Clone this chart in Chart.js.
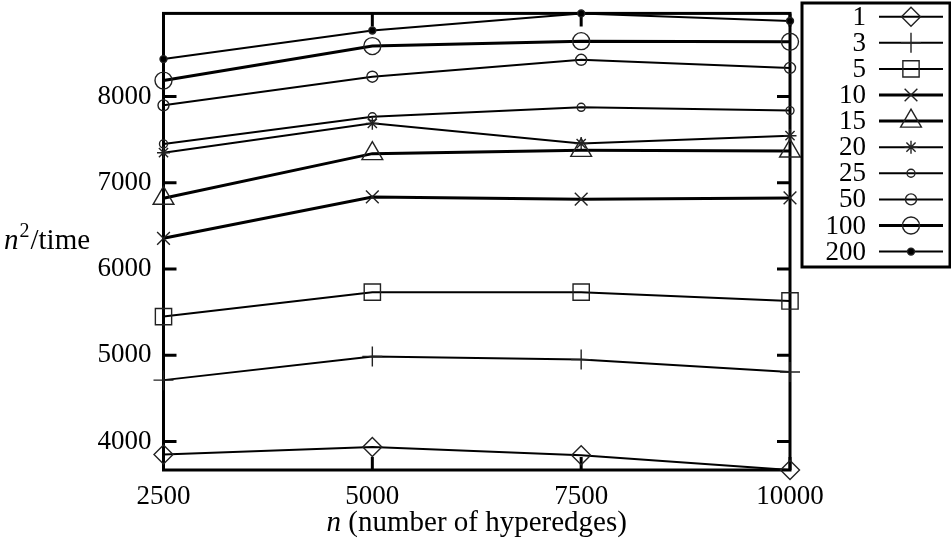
<!DOCTYPE html>
<html><head><meta charset="utf-8">
<script src="https://cdn.jsdelivr.net/npm/chart.js@4/dist/chart.umd.min.js"></script>
<style>html,body{margin:0;padding:0;background:#fff}#wrap{width:951px;height:552px;position:relative}canvas{display:block}</style>
</head><body><div id="wrap"><canvas id="c" width="951" height="552"></canvas></div>
<script>
// ---- data ----
const nValues = [2500, 5000, 7500, 10000];
const seriesLabels = ['1', '3', '5', '10', '15', '20', '25', '50', '100', '200'];
const s1   = [3850, 3937, 3842, 3670];
const s3   = [4712, 4987, 4950, 4806];
const s5   = [5449, 5732, 5732, 5630];
const s10  = [6356, 6836, 6810, 6824];
const s15  = [6820, 7338, 7376, 7368];
const s20  = [7349, 7689, 7455, 7546];
const s25  = [7451, 7765, 7875, 7837];
const s50  = [7898, 8230, 8426, 8332];
const s100 = [8185, 8585, 8642, 8635];
const s200 = [8434, 8766, 8964, 8876];
const xTicks = [2500, 5000, 7500, 10000];
const yTicks = [4000, 5000, 6000, 7000, 8000];
const xTitle = ['n', ' (number of hyperedges)'];
const yTitle = ['n', '2', '/time'];

const allSeries = [s1, s3, s5, s10, s15, s20, s25, s50, s100, s200];
const yMin = Math.min(...allSeries.flat());
const yMax = Math.max(...allSeries.flat());

// ---- styles ----
const FONT = '"Liberation Serif", "DejaVu Serif", serif';
const FS = 27;
const TFS = 29;
const styles = [
  {ps: 'rectRot', r: 9.5, w: 2},
  {ps: 'cross', r: 10, w: 2},
  {ps: 'rect', r: 11.5, w: 2},
  {ps: 'crossRot', r: 9, w: 3},
  {ps: 'triangle', r: 12, w: 3},
  {ps: 'star', r: 6.5, w: 2},
  {ps: 'circle', r: 4, w: 2},
  {ps: 'circle', r: 5.5, w: 2},
  {ps: 'circle', r: 8.5, w: 3},
  {ps: 'circle', r: 3.5, w: 2, fill: true}
];

const datasets = allSeries.map((vals, i) => ({
  label: seriesLabels[i],
  data: nValues.map((x, j) => ({x: x, y: vals[j]})),
  borderColor: '#000',
  borderWidth: styles[i].w,
  pointStyle: styles[i].ps,
  pointRadius: styles[i].r,
  pointHoverRadius: styles[i].r,
  pointBorderColor: '#222',
  pointBorderWidth: 1.4,
  pointBackgroundColor: styles[i].fill ? '#000' : 'rgba(0,0,0,0)',
  tension: 0,
  clip: false
}));

const decor = {
  id: 'decor',
  beforeDatasetsDraw(chart) {
    const {ctx, chartArea: a, scales: {x, y}} = chart;
    ctx.save();
    ctx.strokeStyle = '#000';
    ctx.lineWidth = 3;
    ctx.strokeRect(a.left, a.top, a.right - a.left, a.bottom - a.top);
    const TL = 13;
    ctx.beginPath();
    yTicks.forEach(v => {
      const py = y.getPixelForValue(v);
      ctx.moveTo(a.left, py); ctx.lineTo(a.left + TL, py);
      ctx.moveTo(a.right, py); ctx.lineTo(a.right - TL, py);
    });
    xTicks.forEach(v => {
      const px = x.getPixelForValue(v);
      ctx.moveTo(px, a.bottom); ctx.lineTo(px, a.bottom - TL);
      ctx.moveTo(px, a.top); ctx.lineTo(px, a.top + TL);
    });
    ctx.stroke();
    ctx.restore();
  },
  afterDraw(chart) {
    const {ctx, chartArea: a} = chart;
    ctx.save();
    ctx.fillStyle = '#000';
    ctx.textBaseline = 'alphabetic';
    // y title
    let xx = 4, by = 249;
    ctx.font = 'italic ' + TFS + 'px ' + FONT;
    ctx.fillText(yTitle[0], xx, by); xx += ctx.measureText(yTitle[0]).width + 1;
    ctx.font = '20px ' + FONT;
    ctx.fillText(yTitle[1], xx, by - 12); xx += ctx.measureText(yTitle[1]).width + 1;
    ctx.font = TFS + 'px ' + FONT;
    ctx.fillText(yTitle[2], xx, by);
    // x title
    ctx.font = 'italic ' + TFS + 'px ' + FONT;
    const w0 = ctx.measureText(xTitle[0]).width;
    ctx.font = TFS + 'px ' + FONT;
    const w1 = ctx.measureText(xTitle[1]).width;
    let sx = (a.left + a.right) / 2 - (w0 + w1) / 2;
    const bx = 531;
    ctx.font = 'italic ' + TFS + 'px ' + FONT;
    ctx.fillText(xTitle[0], sx, bx);
    ctx.font = TFS + 'px ' + FONT;
    ctx.fillText(xTitle[1], sx + w0, bx);
    // legend
    const L = {x0: 802, y0: 3, x1: 950, y1: 267};
    ctx.fillStyle = '#fff';
    ctx.fillRect(L.x0, L.y0, L.x1 - L.x0, L.y1 - L.y0);
    ctx.strokeStyle = '#000';
    ctx.lineWidth = 3;
    ctx.strokeRect(L.x0, L.y0, L.x1 - L.x0, L.y1 - L.y0);
    ctx.fillStyle = '#000';
    ctx.textAlign = 'right';
    ctx.textBaseline = 'middle';
    ctx.font = FS + 'px ' + FONT;
    chart.data.datasets.forEach((ds, i) => {
      const cy = 16.7 + i * 26.1;
      ctx.fillText(ds.label, 866, cy + 1);
      ctx.beginPath();
      ctx.lineWidth = ds.borderWidth;
      ctx.strokeStyle = '#000';
      ctx.moveTo(879, cy); ctx.lineTo(943, cy);
      ctx.stroke();
      ctx.lineWidth = ds.pointBorderWidth;
      ctx.strokeStyle = ds.pointBorderColor;
      ctx.fillStyle = ds.pointBackgroundColor;
      Chart.helpers.drawPoint(ctx, {pointStyle: ds.pointStyle, radius: ds.pointRadius, rotation: 0, borderWidth: ds.pointBorderWidth}, 911, cy);
      ctx.fillStyle = '#000';
    });
    ctx.restore();
  }
};

new Chart(document.getElementById('c'), {
  type: 'line',
  data: {datasets},
  options: {
    responsive: false,
    animation: false,
    events: [],
    layout: {padding: {top: 3, right: 161, left: 0, bottom: 0}},
    plugins: {legend: {display: false}, tooltip: {enabled: false}},
    scales: {
      x: {
        type: 'linear', min: nValues[0], max: nValues[nValues.length - 1],
        afterBuildTicks: s => { s.ticks = xTicks.map(v => ({value: v})); },
        grid: {display: false, drawTicks: false},
        border: {display: false},
        ticks: {color: '#000', font: {family: FONT, size: FS}, padding: 11, maxRotation: 0, autoSkip: false, callback: v => String(v)},
        afterFit: s => { s.height = 82; s.paddingLeft = 0; s.paddingRight = 0; }
      },
      y: {
        type: 'linear', min: yMin, max: yMax,
        afterBuildTicks: s => { s.ticks = yTicks.map(v => ({value: v})); },
        grid: {display: false, drawTicks: false},
        border: {display: false},
        ticks: {color: '#000', font: {family: FONT, size: FS}, padding: 12, autoSkip: false, callback: v => String(v)},
        afterFit: s => { s.width = 163.5; s.paddingTop = 0; s.paddingBottom = 0; }
      }
    }
  },
  plugins: [decor]
});
</script></body></html>
